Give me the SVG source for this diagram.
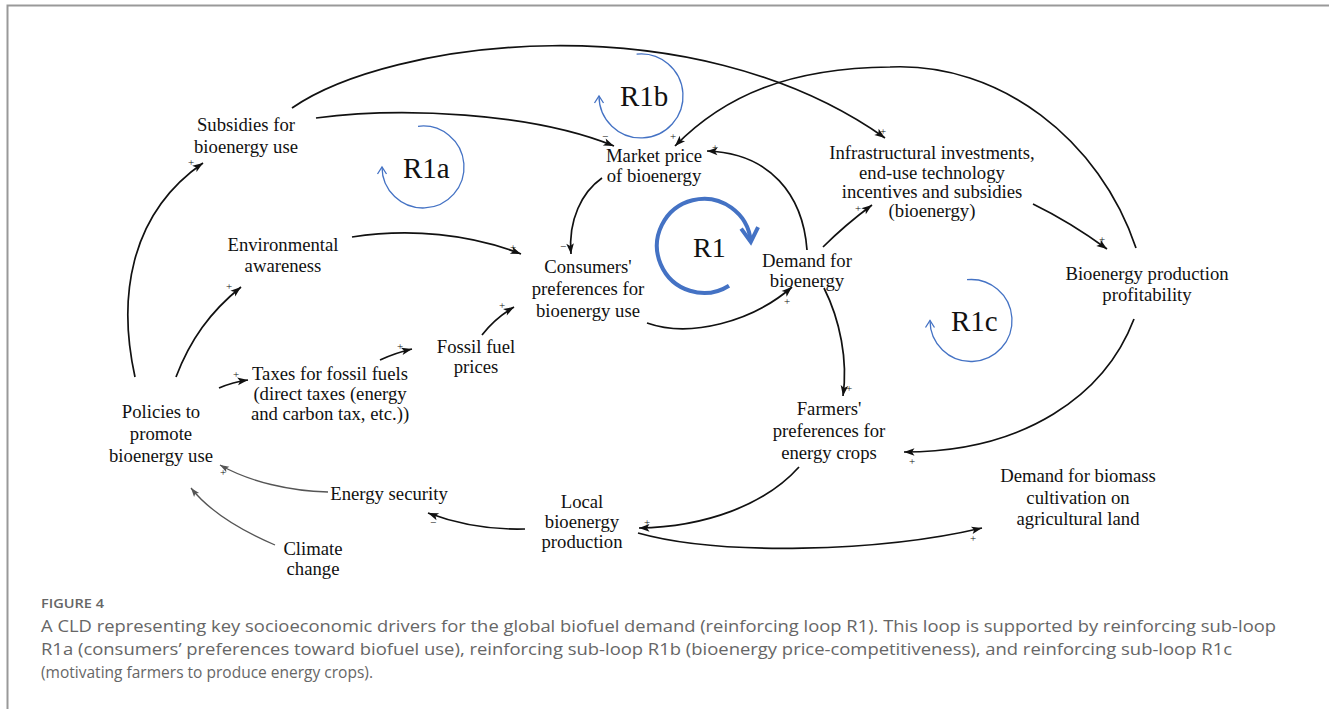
<svg xmlns="http://www.w3.org/2000/svg" width="1329" height="709" viewBox="0 0 1329 709">
<defs>
<style>
.n{font-family:"Liberation Serif","Times New Roman",serif;font-size:18.7px;fill:#111;text-anchor:middle}
.p{font-family:"Liberation Serif","Times New Roman",serif;font-size:11px;fill:#111;text-anchor:middle}
.lbl{font-family:"Liberation Serif","Times New Roman",serif;fill:#111}
.c{fill:none;stroke:#111;stroke-width:1.7;marker-end:url(#ah)}
.g{fill:none;stroke:#555;stroke-width:1.3;marker-end:url(#ahg)}
.loop{fill:none;stroke:#4472c4;stroke-width:1.3;marker-end:url(#chev)}
.cap{font-family:"Open Sans","Liberation Sans",sans-serif;fill:#666}
</style>
<marker id="ah" markerUnits="userSpaceOnUse" orient="auto" refX="0" refY="0" overflow="visible">
<path d="M0,0 L-10.5,-3.8 L-8,0 L-10.5,3.8 Z" fill="#111"/>
</marker>
<marker id="ahg" markerUnits="userSpaceOnUse" orient="auto" refX="0" refY="0" overflow="visible">
<path d="M0,0 L-9,-3.2 L-7,0 L-9,3.2 Z" fill="#555"/>
</marker>
<marker id="chev" markerUnits="userSpaceOnUse" orient="auto" refX="0" refY="0" overflow="visible">
<path d="M-7,-4.5 L0,0 L-7,4.5" fill="none" stroke="#4472c4" stroke-width="1.3"/>
</marker>
<marker id="chevT" markerUnits="userSpaceOnUse" orient="auto" refX="0" refY="0" overflow="visible">
<path d="M-14,-8.5 L0,0 L-14,8.5" fill="none" stroke="#4472c4" stroke-width="4"/>
</marker>
</defs>
<rect width="1329" height="709" fill="#fff"/>
<path d="M7.5,709 L7.5,5.5 L1329,5.5" fill="none" stroke="#999" stroke-width="2"/>

<g id="connectors">
<path class="c" d="M135,377 C118,300 128,215 203,163"/>
<path class="c" d="M176,377 C190,340 210,312 241,287"/>
<path class="c" d="M219,388 Q233,382 248,380"/>
<path class="c" d="M380,360 Q395,353 412,349"/>
<path class="c" d="M482,335 Q495,318 514,307"/>
<path class="c" d="M352,237 C410,228 470,234 521,254"/>
<path class="c" d="M316,118 C400,107 530,112 614,146"/>
<path class="c" d="M292,108 C390,40 690,0 885,138"/>
<path class="c" d="M1136,248 C1100,140 1000,62 890,67 C790,68 725,95 675,146"/>
<path class="c" d="M1033,204 Q1070,222 1107,249"/>
<path class="c" d="M823,247 Q845,225 872,205"/>
<path class="c" d="M807,250 C803,195 770,153 707,151"/>
<path class="c" d="M602,178 C582,192 568,220 571,254"/>
<path class="c" d="M647,323 C690,338 752,322 792,287"/>
<path class="c" d="M824,288 C840,320 848,360 843,396"/>
<path class="c" d="M1134,319 C1105,395 1025,452 904,452"/>
<path class="c" d="M799,467 C765,505 705,527 639,528"/>
<path class="c" d="M638,533 C720,556 880,552 982,528"/>
<path class="c" d="M525,529 C490,530 460,525 428,513"/>
<path class="g" d="M328,492 C290,491 250,482 220,465"/>
<path class="g" d="M275,545 C240,530 210,512 191,488"/>
</g>

<g id="polarities">
<text class="p" x="191" y="166">+</text>
<text class="p" x="229" y="290">+</text>
<text class="p" x="236" y="378">+</text>
<text class="p" x="400" y="350">+</text>
<text class="p" x="502" y="309">+</text>
<text class="p" x="513" y="251">+</text>
<text class="p" x="605" y="140">−</text>
<text class="p" x="673" y="140">+</text>
<text class="p" x="715" y="151">+</text>
<text class="p" x="563" y="250">−</text>
<text class="p" x="883" y="135">+</text>
<text class="p" x="858" y="212">+</text>
<text class="p" x="787" y="305">+</text>
<text class="p" x="1102" y="243">+</text>
<text class="p" x="849" y="392">+</text>
<text class="p" x="912" y="465">+</text>
<text class="p" x="647" y="526">+</text>
<text class="p" x="973" y="542">+</text>
<text class="p" x="433" y="526">−</text>
<text class="p" x="223" y="476">+</text>
</g>

<g id="loops">
<path class="loop" d="M418,126.3 A41,41 0 1 1 382,167"/>
<path class="loop" d="M636.6,54.2 A42,42 0 1 1 599,96"/>
<path class="loop" d="M967,279.7 A41,41 0 1 1 930,320.5"/>
<path d="M729,285.7 A47,47 0 1 1 750.8,241.9" fill="none" stroke="#4472c4" stroke-width="4" marker-end="url(#chevT)"/>
<text class="lbl" x="403" y="178" font-size="29">R1a</text>
<text class="lbl" x="620" y="106" font-size="29">R1b</text>
<text class="lbl" x="951" y="331" font-size="29">R1c</text>
<text class="lbl" x="693" y="257" font-size="28">R1</text>
</g>

<g id="subsidies"><text class="n"><tspan x="246" y="131">Subsidies for</tspan><tspan x="246" y="152.5">bioenergy use</tspan></text></g>
<g id="environmental-awareness"><text class="n"><tspan x="283" y="251">Environmental</tspan><tspan x="283" y="272">awareness</tspan></text></g>
<g id="policies"><text class="n"><tspan x="161" y="418">Policies to</tspan><tspan x="161" y="440">promote</tspan><tspan x="161" y="462">bioenergy use</tspan></text></g>
<g id="taxes"><text class="n"><tspan x="330" y="380">Taxes for fossil fuels</tspan><tspan x="330" y="400">(direct taxes (energy</tspan><tspan x="330" y="420">and carbon tax, etc.))</tspan></text></g>
<g id="fossil-fuel-prices"><text class="n"><tspan x="476" y="353">Fossil fuel</tspan><tspan x="476" y="373">prices</tspan></text></g>
<g id="energy-security"><text class="n" x="389" y="500">Energy security</text></g>
<g id="climate-change"><text class="n"><tspan x="313" y="555">Climate</tspan><tspan x="313" y="575">change</tspan></text></g>
<g id="consumers-preferences"><text class="n"><tspan x="588" y="273">Consumers'</tspan><tspan x="588" y="295">preferences for</tspan><tspan x="588" y="317">bioenergy use</tspan></text></g>
<g id="market-price"><text class="n"><tspan x="654" y="162">Market price</tspan><tspan x="654" y="182">of bioenergy</tspan></text></g>
<g id="demand-for-bioenergy"><text class="n"><tspan x="807" y="267">Demand for</tspan><tspan x="807" y="287">bioenergy</tspan></text></g>
<g id="infrastructural-investments"><text class="n"><tspan x="932" y="159">Infrastructural investments,</tspan><tspan x="932" y="178.5">end-use technology</tspan><tspan x="932" y="198">incentives and subsidies</tspan><tspan x="932" y="217">(bioenergy)</tspan></text></g>
<g id="profitability"><text class="n"><tspan x="1147" y="280">Bioenergy production</tspan><tspan x="1147" y="301">profitability</tspan></text></g>
<g id="farmers-preferences"><text class="n"><tspan x="829" y="415">Farmers'</tspan><tspan x="829" y="437">preferences for</tspan><tspan x="829" y="459">energy crops</tspan></text></g>
<g id="local-production"><text class="n"><tspan x="582" y="508">Local</tspan><tspan x="582" y="528">bioenergy</tspan><tspan x="582" y="547.5">production</tspan></text></g>
<g id="biomass-demand"><text class="n"><tspan x="1078" y="482">Demand for biomass</tspan><tspan x="1078" y="504">cultivation on</tspan><tspan x="1078" y="525">agricultural land</tspan></text></g>

<g id="caption">
<text class="cap" x="41" y="608" font-size="13" font-weight="600" fill="#777" textLength="63" lengthAdjust="spacingAndGlyphs">FIGURE 4</text>
<text class="cap" x="41" y="632" font-size="16.5" textLength="1235" lengthAdjust="spacingAndGlyphs">A CLD representing key socioeconomic drivers for the global biofuel demand (reinforcing loop R1). This loop is supported by reinforcing sub-loop</text>
<text class="cap" x="41" y="655" font-size="16.5" textLength="1191" lengthAdjust="spacingAndGlyphs">R1a (consumers’ preferences toward biofuel use), reinforcing sub-loop R1b (bioenergy price-competitiveness), and reinforcing sub-loop R1c</text>
<text class="cap" x="41" y="678" font-size="16.5" textLength="332" lengthAdjust="spacingAndGlyphs">(motivating farmers to produce energy crops).</text>
</g>
</svg>
